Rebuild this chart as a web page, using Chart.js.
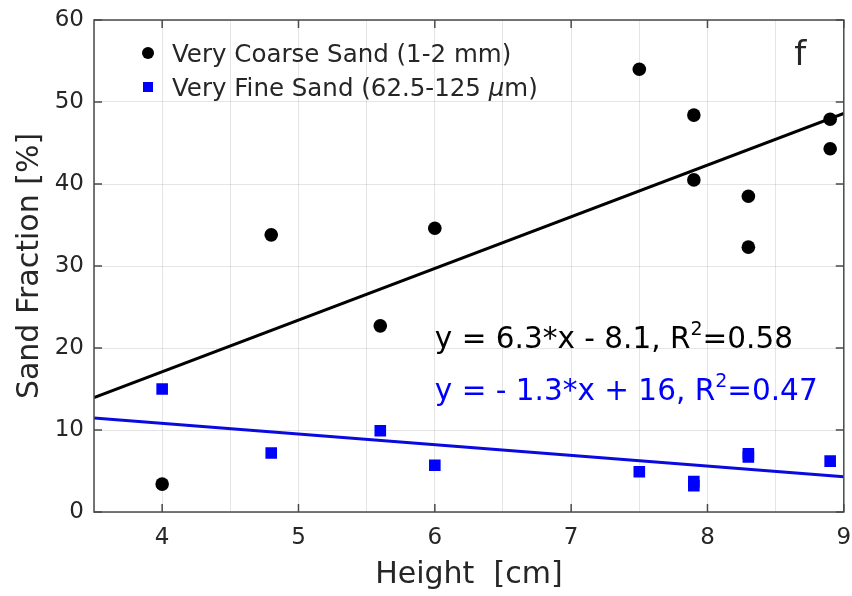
<!DOCTYPE html>
<html>
<head>
<meta charset="utf-8">
<script src="https://cdn.jsdelivr.net/npm/chart.js@4.4.0/dist/chart.umd.min.js"></script>
<style>
html, body { margin: 0; padding: 0; background: #fff; }
#wrap { width: 852px; height: 596px; }
</style>
</head>
<body>
<div id="wrap"><canvas id="sandChart"></canvas></div>
<script>
// sample heights [cm] and sand fractions [%]
var coarseHeight = [4, 4.8, 5.6, 6, 7.5, 7.9, 7.9, 8.3, 8.3, 8.9, 8.9];
var coarseFrac = [3.4, 33.8, 22.7, 34.6, 54.0, 48.4, 40.5, 38.5, 32.3, 47.9, 44.3];
var fineHeight = [4, 4.8, 5.6, 6, 7.5, 7.9, 7.9, 8.3, 8.3, 8.9];
var fineFrac = [15.0, 7.2, 9.9, 5.7, 4.9, 3.7, 3.2, 7.1, 6.7, 6.2];

// linear fits: coarse, fine
var fitSlope = [6.3, -1.3];
var fitIntercept = [-8.1, 16];
var fitR2 = ['0.58', '0.47'];
var xRange = [3.5, 9];
var yRange = [0, 60];

var seriesNames = ['Very Coarse Sand (1-2 mm)', 'Very Fine Sand (62.5-125 '];
var colors = ['#000000', '#0000ff'];
var FONT = "'DejaVu Sans', sans-serif";
var TEXT = '#262626';

function toPoints(xs, ys) {
    return xs.map(function (x, i) { return { x: x, y: ys[i] }; });
}

function fitLine(k) {
    return xRange.map(function (x) {
        return { x: x, y: fitSlope[k] * x + fitIntercept[k] };
    });
}

function fitLabel(k) {
    var s = fitSlope[k], b = fitIntercept[k];
    var txt = 'y = ' + (s < 0 ? '- ' + (-s) : s) + '*x ';
    txt += (b < 0 ? '- ' + (-b) : '+ ' + b) + ', R';
    return txt;
}

// box, inward ticks, legend and text labels
var decorPlugin = {
    id: 'decor',
    afterDraw: function (chart) {
        var c = chart.ctx, a = chart.chartArea;
        var xs = chart.scales.x, ys = chart.scales.y;
        c.save();
        c.strokeStyle = '#4a4a4a';
        c.lineWidth = 1.5;
        c.strokeRect(a.left, a.top, a.right - a.left, a.bottom - a.top);

        var tl = 8;
        c.beginPath();
        xs.ticks.forEach(function (t) {
            if (!Number.isInteger(t.value)) return;
            var px = xs.getPixelForValue(t.value);
            c.moveTo(px, a.bottom); c.lineTo(px, a.bottom - tl);
            c.moveTo(px, a.top); c.lineTo(px, a.top + tl);
        });
        ys.ticks.forEach(function (t) {
            var py = ys.getPixelForValue(t.value);
            c.moveTo(a.left, py); c.lineTo(a.left + tl, py);
            c.moveTo(a.right, py); c.lineTo(a.right - tl, py);
        });
        c.stroke();

        // legend
        var lx = a.left + 54, ly = a.top + 33, gap = 34;
        c.fillStyle = colors[0];
        c.beginPath(); c.arc(lx, ly, 6, 0, Math.PI * 2); c.fill();
        c.fillStyle = colors[1];
        c.fillRect(lx - 5, ly + gap - 5, 10, 10);
        c.fillStyle = TEXT;
        c.textBaseline = 'alphabetic';
        c.textAlign = 'left';
        c.font = '24.5px ' + FONT;
        var tx = lx + 24, base = ly + 9;
        c.fillText(seriesNames[0], tx, base);
        c.fillText(seriesNames[1], tx, base + gap);
        tx += c.measureText(seriesNames[1]).width;
        c.font = 'italic 24.5px ' + FONT;
        c.fillText('\u03bc', tx, base + gap);
        tx += c.measureText('\u03bc').width;
        c.font = '24.5px ' + FONT;
        c.fillText('m)', tx, base + gap);

        // fit equations
        var eqY = [20, 13.6];
        for (var k = 0; k < 2; k++) {
            var ex = xs.getPixelForValue(6.0);
            var ey = ys.getPixelForValue(eqY[k]);
            c.fillStyle = colors[k];
            c.font = '29.5px ' + FONT;
            var s = fitLabel(k);
            c.fillText(s, ex, ey);
            ex += c.measureText(s).width;
            c.font = '19px ' + FONT;
            c.fillText('2', ex, ey - 13);
            ex += c.measureText('2').width;
            c.font = '29.5px ' + FONT;
            c.fillText('=' + fitR2[k], ex, ey);
        }

        // panel letter
        c.fillStyle = TEXT;
        c.font = '34px ' + FONT;
        c.textAlign = 'center';
        c.fillText('f', xs.getPixelForValue(8.68), ys.getPixelForValue(54.5));
        c.restore();
    }
};

var ctx = document.getElementById('sandChart').getContext('2d');
var chart = new Chart(ctx, {
    type: 'scatter',
    data: {
        datasets: [{
            label: seriesNames[0],
            data: toPoints(coarseHeight, coarseFrac),
            backgroundColor: colors[0],
            borderWidth: 0,
            pointStyle: 'circle',
            pointRadius: 6.8
        }, {
            label: seriesNames[1] + '\u03bcm)',
            data: toPoints(fineHeight, fineFrac),
            backgroundColor: colors[1],
            borderWidth: 0,
            pointStyle: 'rect',
            pointRadius: 8.2
        }, {
            type: 'line',
            label: 'coarse fit',
            data: fitLine(0),
            borderColor: colors[0],
            borderWidth: 3,
            pointRadius: 0,
            fill: false
        }, {
            type: 'line',
            label: 'fine fit',
            data: fitLine(1),
            borderColor: '#0a0ae0',
            borderWidth: 3,
            pointRadius: 0,
            fill: false
        }]
    },
    options: {
        responsive: true,
        maintainAspectRatio: false,
        animation: false,
        layout: { padding: { left: 0, right: 7, top: 20, bottom: 0 } },
        plugins: {
            legend: { display: false },
            tooltip: { enabled: false }
        },
        scales: {
            x: {
                type: 'linear',
                min: xRange[0],
                max: xRange[1],
                ticks: {
                    stepSize: 0.5,
                    autoSkip: false,
                    maxRotation: 0,
                    padding: 12,
                    color: TEXT,
                    font: { family: FONT, size: 23 },
                    callback: function (v) { return Number.isInteger(v) ? v : ''; }
                },
                grid: { color: 'rgba(0,0,0,0.1)', drawTicks: false },
                border: { display: false },
                title: {
                    display: true,
                    text: 'Height  [cm]',
                    color: TEXT,
                    font: { family: FONT, size: 30 },
                    padding: { top: 0, bottom: 3 }
                },
                afterFit: function (s) {
                    s.height = 84;
                    s.paddingLeft = 0;
                    s.paddingRight = 0;
                }
            },
            y: {
                min: yRange[0],
                max: yRange[1],
                ticks: {
                    stepSize: 10,
                    padding: 10,
                    color: TEXT,
                    font: { family: FONT, size: 23 }
                },
                grid: { color: 'rgba(0,0,0,0.1)', drawTicks: false },
                border: { display: false },
                title: {
                    display: true,
                    text: 'Sand Fraction [%]',
                    color: TEXT,
                    font: { family: FONT, size: 30 },
                    padding: { top: 12, bottom: 0 }
                },
                afterFit: function (s) {
                    s.width = 94;
                    s.paddingTop = 0;
                    s.paddingBottom = 0;
                }
            }
        }
    },
    plugins: [decorPlugin]
});
</script>
</body>
</html>
